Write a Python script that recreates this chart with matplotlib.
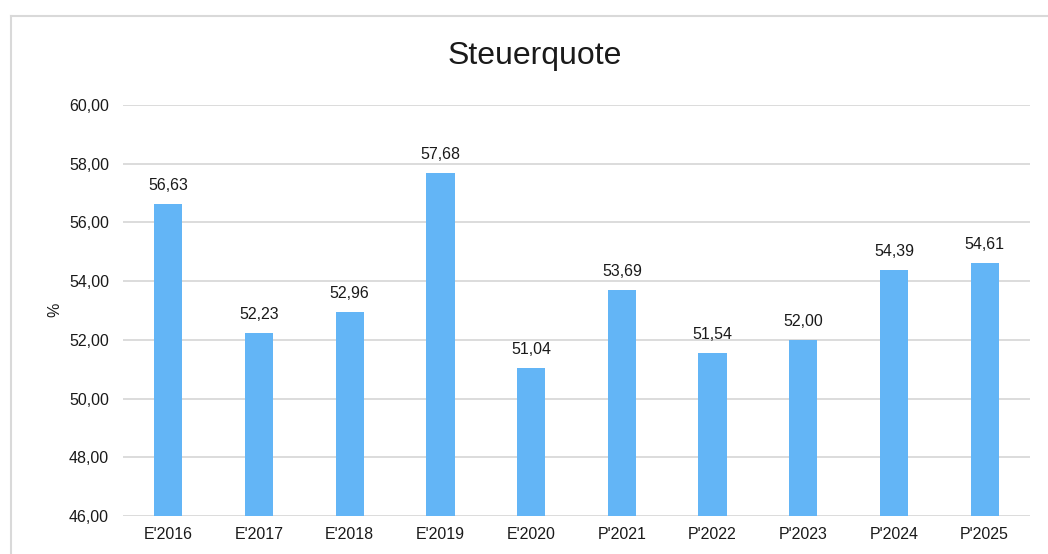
import matplotlib.pyplot as plt
from matplotlib.lines import Line2D

# Daten
jahre = ["E'2016", "E'2017", "E'2018", "E'2019", "E'2020",
         "P'2021", "P'2022", "P'2023", "P'2024", "P'2025"]
quote = [56.63, 52.23, 52.96, 57.68, 51.04, 53.69, 51.54, 52.00, 54.39, 54.61]
y_ticks = [46, 48, 50, 52, 54, 56, 58, 60]

plt.rcParams['font.family'] = ['Liberation Sans', 'DejaVu Sans']

fig = plt.figure(figsize=(10.48, 5.54), dpi=100)
ax = fig.add_axes([123 / 1048, 1 - 516 / 554, 907 / 1048, 411 / 554])

x = range(len(jahre))
bars = ax.bar(x, quote, width=0.31, color='#63b5f6', zorder=3)

for xi, v in zip(x, quote):
    ax.annotate(f"{v:.2f}".replace('.', ','), (xi, v), xytext=(0, 8),
                textcoords='offset points', ha='center', va='bottom',
                fontsize=11.5, color='#1a1a1a')

ax.set_xlim(-0.5, len(jahre) - 0.5)
ax.set_ylim(46, 60)
ax.set_yticks(y_ticks)
ax.set_yticklabels([f"{t:.2f}".replace('.', ',') for t in y_ticks])
ax.set_xticks(list(x))
ax.set_xticklabels(jahre)
ax.tick_params(axis='both', length=0, labelsize=11.5, colors='#1a1a1a')
ax.tick_params(axis='y', pad=10)
ax.tick_params(axis='x', pad=8)
ax.grid(axis='y', color='#d9d9d9', linewidth=1.3, zorder=0)
for s in ax.spines.values():
    s.set_visible(False)

fig.text(55 / 1048, 1 - 310 / 554, '%', rotation=90, ha='center', va='center',
         fontsize=11.5, color='#1a1a1a')
fig.text(535 / 1048, 1 - 56 / 554, 'Steuerquote', ha='center', va='center',
         fontsize=23, color='#1a1a1a')

# Rahmen
fig.add_artist(Line2D([10.5 / 1048, 10.5 / 1048], [0, 1 - 15.5 / 554],
                      transform=fig.transFigure, color='#d9d9d9', linewidth=1.5))
fig.add_artist(Line2D([10.5 / 1048, 1], [1 - 15.5 / 554, 1 - 15.5 / 554],
                      transform=fig.transFigure, color='#d9d9d9', linewidth=1.5))

fig.savefig('out.png', dpi=100)
